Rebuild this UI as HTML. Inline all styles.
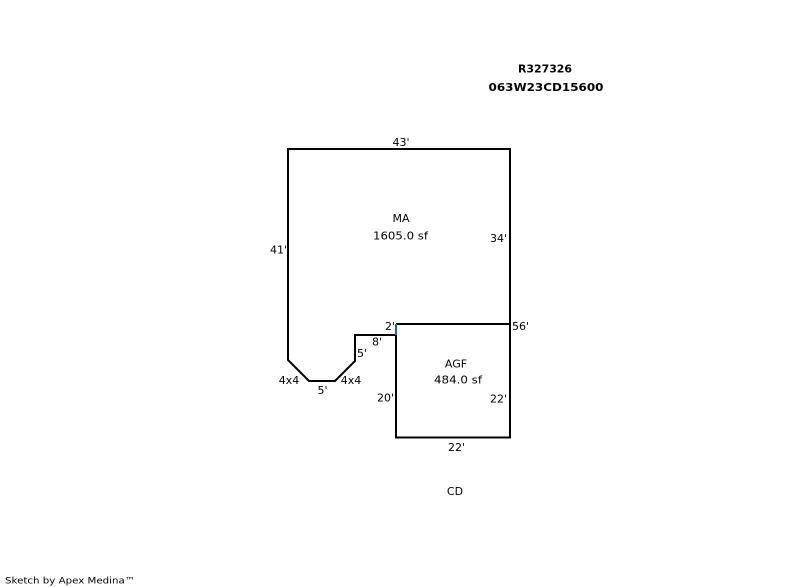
<!DOCTYPE html>
<html>
<head>
<meta charset="utf-8">
<style>
  html, body { margin: 0; padding: 0; background: #ffffff; }
  body { width: 800px; height: 587px; overflow: hidden; }
  svg { display: block; }
  text { font-family: "DejaVu Sans", "Liberation Sans", sans-serif; font-size: 11px; fill: #000; }
  .b { font-weight: bold; font-size: 11px; }
</style>
</head>
<body>
<svg width="800" height="587" viewBox="0 0 800 587" xmlns="http://www.w3.org/2000/svg">
  <!-- Header -->
  <text class="b" x="545" y="72.5" text-anchor="middle" textLength="54" lengthAdjust="spacingAndGlyphs">R327326</text>
  <text class="b" x="546" y="91" text-anchor="middle" textLength="115" lengthAdjust="spacingAndGlyphs">063W23CD15600</text>

  <!-- MA outline -->
  <polyline points="396,324 510,324 510,149 288,149 288,360 309,381 335,381 355,361 355,335 396,335"
            fill="none" stroke="#000" stroke-width="2" stroke-linejoin="miter"/>
  <!-- blue 2' segment -->
  <line x1="396" y1="324" x2="396" y2="335" stroke="#1f5fa8" stroke-width="2"/>

  <!-- AGF rect -->
  <polyline points="396,335 396,437.5 510,437.5 510,324" fill="none" stroke="#000" stroke-width="2"/>

  <!-- MA labels -->
  <text x="401" y="146" text-anchor="middle">43'</text>
  <text x="401" y="222" text-anchor="middle">MA</text>
  <text x="400.5" y="239.5" text-anchor="middle" textLength="55" lengthAdjust="spacingAndGlyphs">1605.0 sf</text>
  <text x="287" y="253.5" text-anchor="end">41'</text>
  <text x="507" y="242" text-anchor="end">34'</text>
  <text x="395" y="330" text-anchor="end">2'</text>
  <text x="512" y="330">56'</text>
  <text x="377" y="345.5" text-anchor="middle">8'</text>
  <text x="362" y="357" text-anchor="middle">5'</text>
  <text x="289" y="384" text-anchor="middle">4x4</text>
  <text x="351" y="384" text-anchor="middle">4x4</text>
  <text x="322.5" y="394" text-anchor="middle">5'</text>

  <!-- AGF labels -->
  <text x="456" y="367.5" text-anchor="middle">AGF</text>
  <text x="458" y="383.5" text-anchor="middle" textLength="48" lengthAdjust="spacingAndGlyphs">484.0 sf</text>
  <text x="394" y="401.5" text-anchor="end">20'</text>
  <text x="507" y="402.5" text-anchor="end">22'</text>
  <text x="456.5" y="451" text-anchor="middle">22'</text>

  <text x="455" y="495" text-anchor="middle">CD</text>

  <!-- footer -->
  <text x="5" y="583.5" style="font-size:9px" textLength="130" lengthAdjust="spacingAndGlyphs">Sketch by Apex Medina™</text>
</svg>
</body>
</html>
